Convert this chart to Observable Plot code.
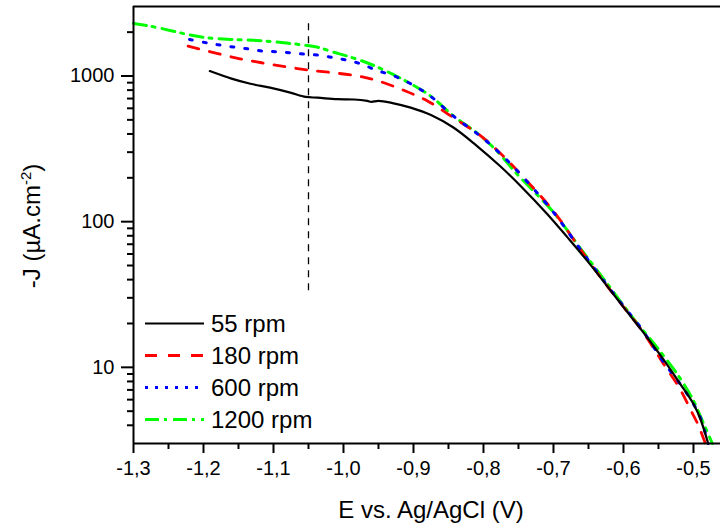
<!DOCTYPE html>
<html><head><meta charset="utf-8">
<script src="https://cdn.jsdelivr.net/npm/d3@7"></script>
<script src="https://cdn.jsdelivr.net/npm/@observablehq/plot@0.6"></script>
<style>body{margin:0;background:#fff} #chart{width:720px;height:532px}</style>
</head><body><div id="chart"></div>
<script>
// ---- data ----
const seriesNames = ["55 rpm", "180 rpm", "600 rpm", "1200 rpm"];

const E55 = [-1.191,-1.16,-1.133,-1.105,-1.076,-1.054,-1.037,-1.009,-0.985,-0.966,-0.96,-0.95,-0.93,-0.904,-0.875,-0.843,-0.81,-0.776,-0.747,-0.709,-0.68,-0.652,-0.625,-0.6,-0.575,-0.551,-0.535,-0.519,-0.5,-0.49,-0.479];
const J55 = [1082,960,885,832,769,718,710,693,690,674,664,675,652,607,540,443,333,240,176,113,78,54,37,25.9,18.2,12.8,10,7.7,5.6,4.4,3.0];

const E180 = [-1.222,-1.181,-1.148,-1.117,-1.083,-1.05,-1.016,-0.98,-0.95,-0.914,-0.88,-0.843,-0.804,-0.776,-0.747,-0.7,-0.661,-0.625,-0.6,-0.575,-0.543,-0.52,-0.504,-0.493,-0.483];
const J180 = [1604,1430,1313,1233,1158,1099,1054,1000,924,798,674,518,388,295,212,118,64,37,26,18.3,10.6,7.2,5.1,4.0,3.0];

const E600 = [-1.22,-1.199,-1.179,-1.157,-1.137,-1.116,-1.096,-1.076,-1.054,-1.034,-1.014,-0.994,-0.973,-0.953,-0.93,-0.904,-0.875,-0.843,-0.804,-0.776,-0.747,-0.7,-0.661,-0.625,-0.6,-0.575,-0.543,-0.52,-0.5,-0.49,-0.479];
const J600 = [1782,1702,1637,1580,1538,1483,1467,1443,1409,1387,1335,1281,1203,1094,1010,885,722,530,385,293,211,116,64,37.5,26.3,18.6,10.9,7.8,5.6,4.5,3.0];

const E1200 = [-1.3,-1.276,-1.243,-1.219,-1.194,-1.161,-1.128,-1.1,-1.081,-1.057,-1.038,-1.016,-0.995,-0.973,-0.952,-0.93,-0.904,-0.875,-0.843,-0.804,-0.779,-0.752,-0.7,-0.661,-0.625,-0.586,-0.55,-0.519,-0.5,-0.49,-0.473];
const J1200 = [2296,2198,2031,1911,1828,1782,1757,1719,1683,1630,1580,1467,1371,1267,1153,1030,885,725,532,388,299,212,116,65,38.5,21.7,13.3,8.4,5.9,4.6,3.0];

const markerE = [-1.05];          // vertical dashed marker
const markerJ = [33.5, 2300];     // its extent

const xDomain = [-1.3, -0.4614];
const yDomain = [3, 3000];
const xMajorTicks = [-1.3,-1.2,-1.1,-1.0,-0.9,-0.8,-0.7,-0.6,-0.5];
const xMinorTicks = [-1.25,-1.15,-1.05,-0.95,-0.85,-0.75,-0.65,-0.55];
const yMajorTicks = [10, 100, 1000];
const yMinorTicks = [4,5,6,7,8,9,20,30,40,50,60,70,80,90,200,300,400,500,600,700,800,900,2000];

// ---- styles ----
const styles = {
  "55 rpm":   {stroke: "#000000", width: 2.2, dash: null},
  "180 rpm":  {stroke: "#ff0000", width: 2.8, dash: "11,11"},
  "600 rpm":  {stroke: "#0000ff", width: 3,   dash: "3,11"},
  "1200 rpm": {stroke: "#00ff00", width: 3,   dash: "13,6,3,7"}
};
const legendDash = {"55 rpm": null, "180 rpm": "12,11", "600 rpm": "3,7", "1200 rpm": "14,5,3,6"};

const Es = [E55, E180, E600, E1200];
const Js = [J55, J180, J600, J1200];
const rows = [];
seriesNames.forEach((n, i) => Es[i].forEach((e, k) => rows.push({series: n, E: e, J: Js[i][k]})));

const drawOrder = ["1200 rpm", "180 rpm", "600 rpm", "55 rpm"];
const fmt = d => d.toFixed(1).replace(".", ",");
const FONT = "'Liberation Sans', Arial, Helvetica, sans-serif";

const chart = Plot.plot({
  width: 720, height: 532,
  marginLeft: 133, marginRight: 0, marginTop: 6, marginBottom: 89,
  x: {domain: xDomain},
  y: {type: "log", domain: yDomain},
  style: {fontFamily: FONT, fontSize: "20px", color: "#000", background: "#fff"},
  marks: [
    Plot.axisX(xMajorTicks, {tickSize: 10, tickPadding: 7, tickFormat: fmt, strokeWidth: 2, fontSize: 20, label: null}),
    Plot.axisX(xMinorTicks, {tickSize: 6, tickFormat: () => "", strokeWidth: 2, label: null}),
    Plot.axisY(yMajorTicks, {tickSize: 12, tickPadding: 7, tickFormat: d => String(d), strokeWidth: 2, fontSize: 20, label: null}),
    Plot.axisY(yMinorTicks, {tickSize: 6, tickFormat: () => "", strokeWidth: 2, label: null}),
    Plot.ruleX(markerE, {y1: markerJ[0], y2: markerJ[1], stroke: "#000", strokeWidth: 1.3, strokeDasharray: "7,6"}),
    ...drawOrder.map(n => Plot.line(rows.filter(r => r.series === n), {
      x: "E", y: "J", curve: "catmull-rom",
      stroke: styles[n].stroke, strokeWidth: styles[n].width,
      strokeDasharray: styles[n].dash, strokeLinejoin: "round"
    })),
    Plot.ruleY([yDomain[0]], {stroke: "#000", strokeWidth: 2}),
    Plot.ruleY([yDomain[1]], {stroke: "#000", strokeWidth: 2.2}),
    Plot.ruleX([xDomain[0]], {stroke: "#000", strokeWidth: 2})
  ]
});

const svg = d3.select(chart);
// axis titles
svg.append("text")
  .attr("x", 431).attr("y", 518).attr("text-anchor", "middle")
  .attr("font-family", FONT).attr("font-size", 24).attr("fill", "#000")
  .text("E vs. Ag/AgCl (V)");
const yt = svg.append("text")
  .attr("transform", "translate(40,226) rotate(-90)")
  .attr("text-anchor", "middle")
  .attr("font-family", FONT).attr("font-size", 24).attr("fill", "#000");
yt.append("tspan").text("-J (µA.cm");
yt.append("tspan").attr("dy", -9).attr("font-size", 15).text("-2");
yt.append("tspan").attr("dy", 9).text(")");

// legend
const lg = svg.append("g");
seriesNames.forEach((n, i) => {
  const yy = 323.5 + 32 * i;
  lg.append("line").attr("x1", 145).attr("x2", 204).attr("y1", yy).attr("y2", yy)
    .attr("stroke", styles[n].stroke).attr("stroke-width", styles[n].width)
    .attr("stroke-dasharray", legendDash[n]);
  lg.append("text").attr("x", 211).attr("y", yy + 8.5).attr("text-anchor", "start")
    .attr("font-family", FONT).attr("font-size", 24).attr("fill", "#000").text(n);
});

document.getElementById("chart").appendChild(chart);
</script>
</body></html>
